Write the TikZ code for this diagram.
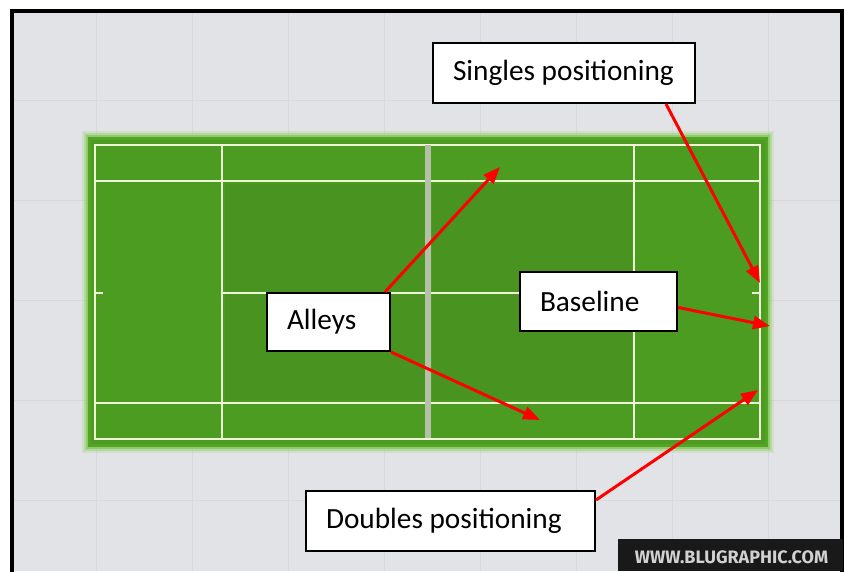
\documentclass[tikz,border=0pt]{standalone}
\usepackage{fontspec}
\setmainfont{Carlito}
\newfontfamily\markfont{Fira Sans}
\usetikzlibrary{arrows.meta,calc}

\definecolor{ground}{RGB}{226,227,230}
\definecolor{gridline}{RGB}{216,217,220}
\definecolor{turf}{RGB}{76,156,34}
\definecolor{turfdark}{RGB}{70,140,30}
\definecolor{turfedge}{RGB}{120,200,64}
\definecolor{chalk}{RGB}{240,244,214}
\definecolor{netgray}{RGB}{182,192,168}
\definecolor{arrowred}{RGB}{255,0,0}

\tikzset{
  label box/.style={draw=black, line width=2pt, fill=white, inner xsep=20pt,
    inner ysep=0pt, minimum height=#1, align=flush left,
    font=\fontsize{29.3}{33}\selectfont},
  label box/.default=59pt,
  pointer/.style={draw=arrowred, line width=3pt,
    -{Triangle[length=17pt,width=13pt]}},
  court line/.style={draw=chalk, line width=1.8pt},
}

\begin{document}
\begin{tikzpicture}[x=1pt, y=-1pt]
\useasboundingbox (0,0) rectangle (845,571);
\fill[white] (0,0) rectangle (845,571);

% backdrop with faint tiles
\fill[ground] (12,10) rectangle (842,571);
\foreach \gx in {96,192,288,384,480,576,672,768}
  \draw[gridline, line width=0.6pt] (\gx,12) -- (\gx,571);
\foreach \gy in {100,200,300,400,500}
  \draw[gridline, line width=0.6pt] (12,\gy) -- (842,\gy);

% soft glow around the turf
\fill[turfedge, opacity=0.15] (82,131) rectangle (774,453);
\fill[turfedge, opacity=0.3] (84,133) rectangle (772,451);
\fill[turfedge, opacity=0.6] (86,135) rectangle (770,449);
\fill[turf!85!turfedge] (88,137) rectangle (768,447);
\fill[turf] (91,140) rectangle (765,444);
\fill[turfdark, opacity=0.45] (225,184) rectangle (425,400);
\fill[turfdark, opacity=0.45] (432,184) rectangle (632,400);

% court markings
\draw[court line] (95,145) rectangle (760,439);
\draw[court line] (95,181) -- (760,181);
\draw[court line] (95,403) -- (760,403);
\draw[court line] (222,145) -- (222,439);
\draw[court line] (634,145) -- (634,439);
\draw[court line] (222,293) -- (634,293);
\draw[court line] (95,293) -- (103,293);
\draw[court line] (752,293) -- (760,293);
% net
\draw[netgray, line width=5.5pt] (428,145) -- (428,438);

% frame
\draw[black, line width=4pt] (12,10.5) -- (842,10.5);
\draw[black, line width=4pt] (12,8.5) -- (12,575);
\draw[black, line width=4pt] (842,8.5) -- (842,575);

% watermark
\fill[black!90] (618,539) rectangle (843,571);
\node[text=black!18, font=\markfont\bfseries\fontsize{18}{18}\selectfont, inner sep=0pt]
  (mark) at (731.5,557.5) {WWW.BLUGRAPHIC.COM};

% labels
\node[label box=60pt, text width=222pt] (singles) at (564,73) {Singles positioning};
\node[label box=58pt, text width=83pt] (alleys) at (328.5,322) {Alleys};
\node[label box=59pt, text width=117pt] (baseline) at (598.5,301.5) {Baseline};
\node[label box=60pt, text width=249pt] (doubles) at (450.5,521) {Doubles positioning};

% pointer targets
\coordinate (alleyTop) at (500,167);
\coordinate (alleyBottom) at (540,420);
\coordinate (singlesSpot) at (760,283);
\coordinate (baseSpot) at (770,326);
\coordinate (doublesSpot) at (758,390);

% pointers
\draw[pointer] ($(alleys.north east)+(-6,0)$) -- (alleyTop);
\draw[pointer] (alleys.south east) -- (alleyBottom);
\draw[pointer] ($(singles.south east)+(-30,0)$) -- (singlesSpot);
\draw[pointer] ($(baseline.east)+(0,6)$) -- (baseSpot);
\draw[pointer] ($(doubles.north east)+(0,10)$) -- (doublesSpot);
\end{tikzpicture}
\end{document}
